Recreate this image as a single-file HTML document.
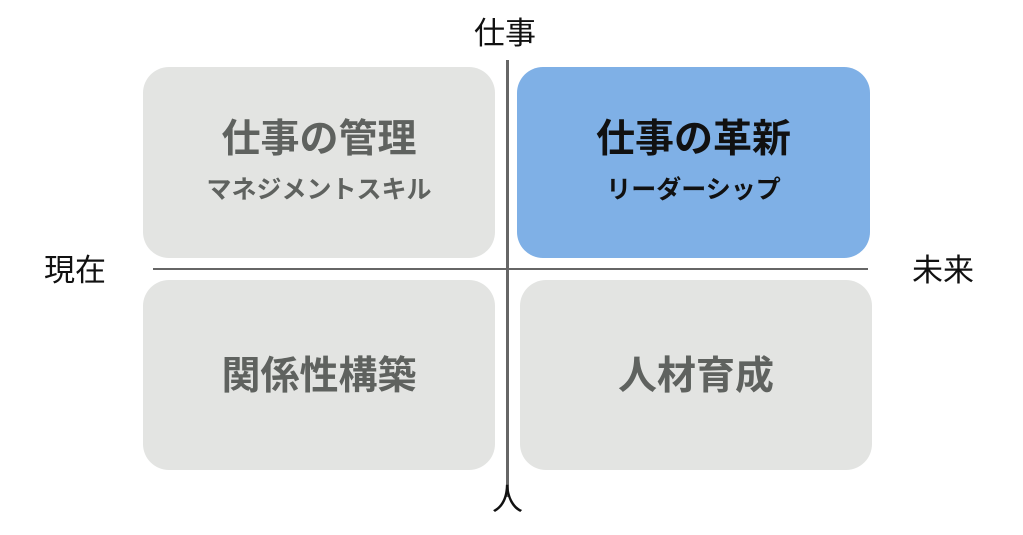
<!DOCTYPE html>
<html><head><meta charset="utf-8"><style>
body{margin:0;width:1023px;height:535px;background:#fff;position:relative;overflow:hidden;font-family:"Liberation Sans","Noto Sans CJK JP",sans-serif}
.b{position:absolute;border-radius:26px;background:#e3e4e2;color:#5f625f;text-align:center;font-weight:bold}
.t{position:absolute;font-size:31px;color:#111;line-height:1}
.h{font-size:39px;position:absolute;left:0;right:0;line-height:1}
.s{font-size:25px;position:absolute;left:0;right:0;line-height:1}
</style></head><body>
<div class="b" style="left:143px;top:67px;width:352px;height:191px"><div class="h" style="top:53px">仕事の管理</div><div class="s" style="top:111px">マネジメントスキル</div></div>
<div class="b" style="left:517px;top:67px;width:353px;height:191px;background:#7fb0e6;color:#111"><div class="h" style="top:53px">仕事の革新</div><div class="s" style="top:111px">リーダーシップ</div></div>
<div class="b" style="left:143px;top:280px;width:352px;height:190px"><div class="h" style="top:77px">関係性構築</div></div>
<div class="b" style="left:520px;top:280px;width:352px;height:190px"><div class="h" style="top:77px">人材育成</div></div>
<div style="position:absolute;left:506px;top:60px;width:3px;height:437px;background:#666"></div>
<div style="position:absolute;left:153px;top:268px;width:715px;height:2px;background:#666"></div>
<div class="t" style="left:474px;top:18px">仕事</div>
<div class="t" style="left:492px;top:484px">人</div>
<div class="t" style="left:44px;top:255px">現在</div>
<div class="t" style="left:912px;top:255px">未来</div>
</body></html>
